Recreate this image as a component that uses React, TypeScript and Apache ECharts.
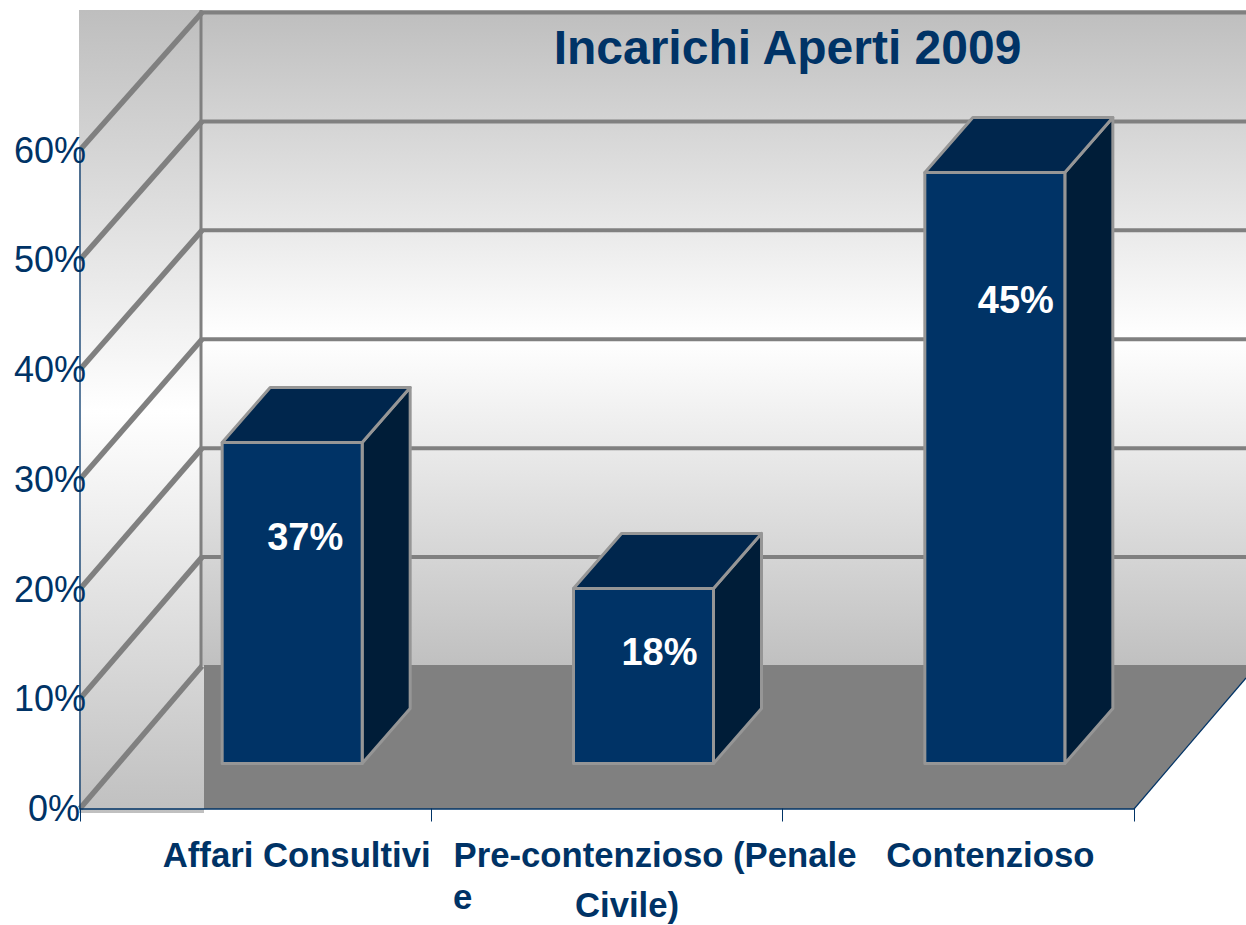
import React, { useEffect, useRef } from "react";
import * as echarts from "echarts";

const TITLE = "Incarichi Aperti 2009";
const CATEGORIES = ["Affari Consultivi", "Pre-contenzioso (Penale", "Contenzioso"];
const CATEGORY_SECOND_LINE = ["", "Civile)", ""];
const BAR_VALUES = [29.25, 15.95, 53.85];
const BAR_LABELS = ["37%", "18%", "45%"];
const AXIS_TICKS = [0, 10, 20, 30, 40, 50, 60];

// layout constants (pixels)
const W = 1246, H = 925;
const GRID = { left: 80, right: 1134, top: 150, bottom: 808.5 };
const WALL_DX = 122, BACK_ZERO_Y = 666, BACK_TOP_Y = 12.5;
const BAR_W = 140, BAR_SHIFT_X = 36.5, BAR_BASE_LIFT = 45;
const BAR_DX = 48, BAR_DY = -55;
const LABEL_OFFSETS = [[13, 95], [16, 64], [21, 128]];
const NAVY = "#003366", GREY = "#808080", EDGE = "#969696";
const FONT = '"Liberation Sans", Arial, sans-serif';
const LABEL_SIZE = 34.7;

const backY = (y: number) =>
  BACK_ZERO_Y + ((y - GRID.bottom) * (BACK_ZERO_Y - BACK_TOP_Y)) / (GRID.bottom - GRID.top);

const wallGradient = () =>
  new echarts.graphic.LinearGradient(0, 0, 0, 1, [
    { offset: 0, color: "#bebebe" },
    { offset: 0.5, color: "#ffffff" },
    { offset: 1, color: "#c0c0c0" },
  ]);

const catStyle = (left: number) => ({
  color: NAVY,
  fontFamily: FONT,
  fontWeight: "bold",
  fontSize: LABEL_SIZE,
  lineHeight: 50,
  padding: [0, 0, 0, left],
});

export default function App() {
  const ref = useRef<HTMLDivElement>(null);
  useEffect(() => {
    const chart = echarts.init(ref.current!, undefined, { renderer: "svg" });
    chart.setOption({
      animation: false,
      backgroundColor: "#ffffff",
      title: {
        text: TITLE,
        left: 782.5,
        top: 18,
        textAlign: "center",
        textStyle: { color: NAVY, fontFamily: FONT, fontWeight: "bold", fontSize: 48 },
      },
      grid: {
        left: GRID.left,
        top: GRID.top,
        width: GRID.right - GRID.left,
        height: GRID.bottom - GRID.top,
      },
      xAxis: {
        type: "category",
        data: CATEGORIES,
        z: 5,
        axisLine: { show: true, lineStyle: { color: NAVY, width: 1.5 } },
        axisTick: { show: true, length: 13, lineStyle: { color: NAVY, width: 1 } },
        axisLabel: {
          interval: 0,
          margin: 21,
          hideOverlap: false,
          formatter: (v: string, i: number) =>
            `{c${i}|${v}}` + (CATEGORY_SECOND_LINE[i] ? `\n{d|${CATEGORY_SECOND_LINE[i]}}` : ""),
          rich: { c0: catStyle(82), c1: catStyle(96), c2: catStyle(64), d: catStyle(40) },
        },
      },
      yAxis: {
        type: "value",
        min: 0,
        max: 60,
        interval: 10,
        z: 5,
        splitLine: { show: false },
        axisTick: { show: false },
        axisLine: { show: true, lineStyle: { color: NAVY, width: 1.5, opacity: 0.85 } },
        axisLabel: {
          margin: -6,
          formatter: (v: number) => (v === 0 ? `{z|${v}%}` : `${v}%`),
          color: NAVY,
          fontFamily: FONT,
          fontSize: 36,
          rich: { z: { color: NAVY, fontFamily: FONT, fontSize: 36, padding: [0, 6, 0, 0] } },
        },
      },
      graphic: [
        { type: "rect", z: -10, shape: { x: 79, y: 10, width: 125, height: 803 }, style: { fill: wallGradient() }, silent: true },
        { type: "rect", z: -10, shape: { x: 202, y: 10, width: W - 202, height: 656 }, style: { fill: wallGradient() }, silent: true },
        {
          type: "polygon",
          z: -9,
          shape: { points: [[204, 665], [W, 665], [W, 678], [1134, 809], [204, 809]] },
          style: { fill: GREY },
          silent: true,
        },
        { type: "line", z: -8, shape: { x1: 1134, y1: 809, x2: W, y2: 678 }, style: { stroke: NAVY, lineWidth: 1.2 }, silent: true },
        { type: "line", z: -8, shape: { x1: 201, y1: 10, x2: 201, y2: 666 }, style: { stroke: GREY, lineWidth: 3 }, silent: true },
        {
          type: "text",
          z: 10,
          x: 453,
          y: 897,
          style: { text: "e", fill: NAVY, font: `bold ${LABEL_SIZE}px ${FONT}`, textAlign: "left", textVerticalAlign: "middle" },
        },
      ],
      series: [
        {
          type: "custom",
          name: "griglia",
          coordinateSystem: "cartesian2d",
          clip: false,
          z: 1,
          silent: true,
          data: AXIS_TICKS.map((v) => [0, v]),
          renderItem: (params: any, api: any) => {
            const y = api.coord([0, api.value(1)])[1];
            const x = params.coordSys.x;
            const by = backY(y);
            const children: any[] = [
              { type: "line", shape: { x1: x, y1: y, x2: x + WALL_DX, y2: by }, style: { stroke: GREY, lineWidth: 5.5 } },
            ];
            if (api.value(1) > 0) {
              children.push({
                type: "line",
                shape: { x1: x + WALL_DX, y1: by, x2: W, y2: by },
                style: { stroke: GREY, lineWidth: 4 },
              });
            }
            return { type: "group", children };
          },
        },
        {
          type: "custom",
          name: "Incarichi",
          coordinateSystem: "cartesian2d",
          clip: false,
          z: 3,
          data: BAR_VALUES.map((v, i) => [i, v]),
          encode: { x: 0, y: 1 },
          renderItem: (params: any, api: any) => {
            const i = api.value(0);
            const c = api.coord([i, api.value(1)]);
            const b = api.coord([i, 0]);
            const x0 = c[0] + BAR_SHIFT_X - BAR_W / 2;
            const x1 = x0 + BAR_W;
            const yTop = c[1] - BAR_BASE_LIFT;
            const yBase = b[1] - BAR_BASE_LIFT;
            const style = (fill: string) => ({ fill, stroke: EDGE, lineWidth: 3, lineJoin: "round" });
            return {
              type: "group",
              children: [
                {
                  type: "polygon",
                  shape: { points: [[x1, yTop], [x1 + BAR_DX, yTop + BAR_DY], [x1 + BAR_DX, yBase + BAR_DY], [x1, yBase]] },
                  style: style("#001d38"),
                },
                {
                  type: "polygon",
                  shape: { points: [[x0, yTop], [x0 + BAR_DX, yTop + BAR_DY], [x1 + BAR_DX, yTop + BAR_DY], [x1, yTop]] },
                  style: style("#00264d"),
                },
                {
                  type: "polygon",
                  shape: { points: [[x0, yTop], [x1, yTop], [x1, yBase], [x0, yBase]] },
                  style: style(NAVY),
                },
                {
                  type: "text",
                  x: c[0] + BAR_SHIFT_X + LABEL_OFFSETS[i][0],
                  y: yTop + LABEL_OFFSETS[i][1],
                  style: {
                    text: BAR_LABELS[i],
                    fill: "#ffffff",
                    font: `bold 38px ${FONT}`,
                    textAlign: "center",
                    textVerticalAlign: "middle",
                  },
                },
              ],
            };
          },
        },
      ],
    });
    return () => chart.dispose();
  }, []);
  return <div ref={ref} style={{ position: "absolute", left: 0, top: 0, width: W, height: H, overflow: "hidden" }} />;
}
